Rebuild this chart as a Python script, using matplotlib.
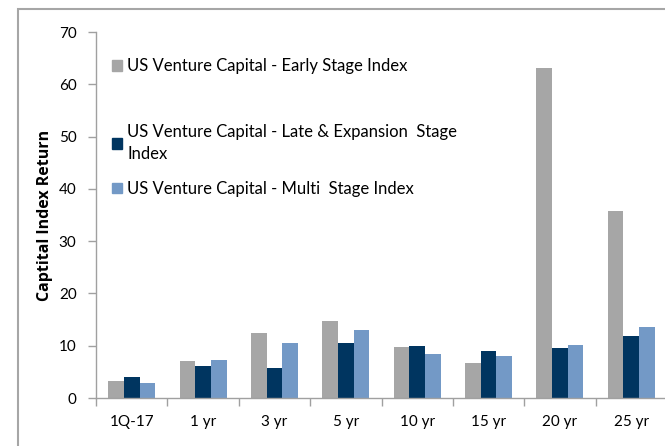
import matplotlib
matplotlib.use("Agg")
import matplotlib.pyplot as plt
from matplotlib.patches import Rectangle, Patch
import numpy as np

categories = ["1Q-17", "1 yr", "3 yr", "5 yr", "10 yr", "15 yr", "20 yr", "25 yr"]
early = [3.3, 7.1, 12.5, 14.7, 9.8, 6.7, 63.1, 35.7]
late = [4.1, 6.2, 5.7, 10.5, 9.9, 9.0, 9.6, 11.9]
multi = [2.8, 7.3, 10.5, 13.1, 8.5, 8.1, 10.2, 13.6]
series_names = ["US Venture Capital - Early Stage Index",
                "US Venture Capital - Late & Expansion  Stage\nIndex",
                "US Venture Capital - Multi  Stage Index"]
colors = ["#a6a6a6", "#003560", "#7399c6"]

plt.rcParams['font.family'] = ['Lato', 'DejaVu Sans']

W, H = 665, 446
fig = plt.figure(figsize=(W / 100, H / 100), dpi=100)

# axes: left 96, right 667, top 32, bottom 398 (pixels)
ax = fig.add_axes([96 / W, (H - 398) / H, (667 - 96) / W, (398 - 32) / H])

x = np.arange(len(categories))
bw = 0.22
for i, (vals, c) in enumerate(zip([early, late, multi], colors)):
    ax.bar(x + (i - 1) * bw, vals, width=bw, color=c, zorder=2)

ax.set_xlim(-0.5, len(categories) - 0.5)
ax.set_ylim(0, 70)
ax.set_yticks(range(0, 71, 10))
ax.set_xticks(x)
ax.set_xticklabels(categories, fontsize=11)
ax.tick_params(axis='x', length=0, pad=12)
ax.set_xticks(np.arange(-0.5, len(categories) - 0.4, 1), minor=True)
ax.tick_params(axis='x', which='minor', length=6, color='#a0a0a0', width=1)
ax.tick_params(axis='y', labelsize=11, length=6, color='#a0a0a0', width=1, pad=8)

for s in ['top', 'right']:
    ax.spines[s].set_visible(False)
for s in ['left', 'bottom']:
    ax.spines[s].set_color('#a0a0a0')
    ax.spines[s].set_linewidth(1)

ax.set_ylabel("Captital Index Return", fontsize=11.5, fontweight='bold',
              family=['Open Sans', 'DejaVu Sans'], labelpad=4)

handles = [Patch(color=colors[0]), Patch(color='none'), Patch(color=colors[1]), Patch(color=colors[2])]
labels = [series_names[0], "", series_names[1], series_names[2]]
leg = ax.legend(handles, labels, loc='upper left', bbox_to_anchor=(0.016, 0.946),
                frameon=False, fontsize=12, handlelength=0.6, handleheight=0.6,
                handletextpad=0.33, labelspacing=1.15, borderaxespad=0.0)
for t in leg.get_texts():
    t.set_linespacing(1.45)
leg.get_texts()[1].set_fontsize(1)

# outer chart border
fig.patches.append(Rectangle((18 / W, -0.1), 1.2, (H - 9) / H + 0.1,
                             transform=fig.transFigure, fill=False,
                             edgecolor='#a6a6a6', linewidth=1.5, zorder=0))

fig.savefig("out.png", dpi=100)
